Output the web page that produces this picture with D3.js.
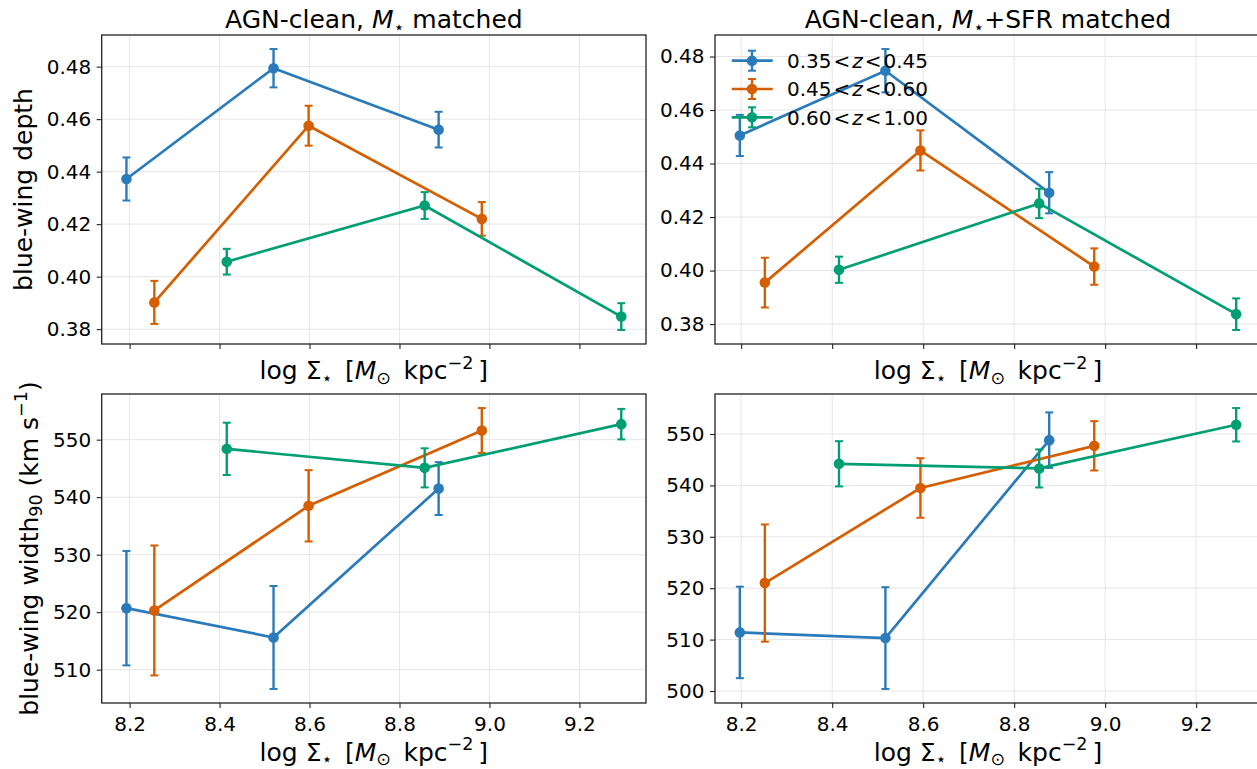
<!DOCTYPE html>
<html>
<head>
<meta charset="utf-8">
<script src="https://cdn.jsdelivr.net/npm/d3@7"></script>
<style>
  body { margin: 0; background: #fff; }
  text { font-family: "DejaVu Sans", sans-serif; fill: #000; }
</style>
</head>
<body>
<div id="chart"></div>
<script>
// redshift bins and colours
var binLo = ["0.35", "0.45", "0.60"];
var binHi = ["0.45", "0.60", "1.00"];
var colors = ["#2b7bba", "#d55e00", "#009e73"];

// log Sigma_* of each bin centre, M* matched sample (left column)
var xMassBlue   = [8.193, 8.520, 8.887];
var xMassOrange = [8.255, 8.598, 8.983];
var xMassGreen  = [8.416, 8.856, 9.293];
// M*+SFR matched sample (right column)
var xSfrBlue   = [8.197, 8.517, 8.877];
var xSfrOrange = [8.252, 8.594, 8.976];
var xSfrGreen  = [8.415, 8.855, 9.288];

// blue-wing depth, M* matched
var depthMassBlue   = [0.4372, 0.4794, 0.4560];
var depthMassBlueE  = [0.0082, 0.0073, 0.0068];
var depthMassOrange = [0.3902, 0.4575, 0.4220];
var depthMassOrangeE= [0.0082, 0.0076, 0.0064];
var depthMassGreen  = [0.4057, 0.4271, 0.3848];
var depthMassGreenE = [0.0049, 0.0051, 0.0051];

// blue-wing depth, M*+SFR matched
var depthSfrBlue   = [0.4505, 0.4747, 0.4291];
var depthSfrBlueE  = [0.0077, 0.0081, 0.0077];
var depthSfrOrange = [0.3955, 0.4449, 0.4015];
var depthSfrOrangeE= [0.0093, 0.0075, 0.0068];
var depthSfrGreen  = [0.4003, 0.4251, 0.3837];
var depthSfrGreenE = [0.0049, 0.0055, 0.0059];

// blue-wing width90 (km/s), M* matched
var widthMassBlue   = [520.7, 515.6, 541.5];
var widthMassBlueE  = [9.95, 8.95, 4.6];
var widthMassOrange = [520.3, 538.5, 551.6];
var widthMassOrangeE= [11.3, 6.2, 3.9];
var widthMassGreen  = [548.4, 545.1, 552.7];
var widthMassGreenE = [4.55, 3.4, 2.65];

// blue-wing width90 (km/s), M*+SFR matched
var widthSfrBlue   = [511.4, 510.3, 548.8];
var widthSfrBlueE  = [8.9, 9.9, 5.4];
var widthSfrOrange = [521.0, 539.5, 547.7];
var widthSfrOrangeE= [11.4, 5.8, 4.8];
var widthSfrGreen  = [544.2, 543.3, 551.8];
var widthSfrGreenE = [4.4, 3.7, 3.25];

// tick values
var xTicks = [8.2, 8.4, 8.6, 8.8, 9.0, 9.2];
var depthTicks = [0.38, 0.40, 0.42, 0.44, 0.46, 0.48];
var widthMassTicks = [510, 520, 530, 540, 550];
var widthSfrTicks = [500, 510, 520, 530, 540, 550];

var W = 1257, H = 769;
var cols = [[101.7, 646], [715, 1261]];
var rows = [[35, 344], [394, 703]];

var svg = d3.select("#chart").append("svg")
    .attr("width", W)
    .attr("height", H);

// text with italic / sub / superscript pieces
function rich(sel, x, y, parts, size, anchor) {
    var t = sel.append("text")
        .attr("x", x).attr("y", y)
        .attr("font-size", size)
        .attr("text-anchor", anchor || "middle");
    var shift = 0;
    parts.forEach(function(p) {
        var target = p.s === "sub" ? size * 0.18 : (p.s === "sup" ? -size * 0.42 : 0);
        var ts = t.append("tspan").text(p.t).attr("dy", target - shift);
        if (p.s) ts.attr("font-size", size * 0.7);
        if (p.i) ts.attr("font-style", "italic");
        shift = target;
    });
    return t;
}

var xLabel = [{t: "log \u03a3"}, {t: "\u22c6", s: "sub"}, {t: "\u2002["}, {t: "M", i: 1},
              {t: "\u2299", s: "sub"}, {t: "\u2002kpc"}, {t: "\u22122", s: "sup"}, {t: "\u2009]"}];

var panels = [
    {c: 0, r: 0, x: [xMassBlue, xMassOrange, xMassGreen],
     y: [depthMassBlue, depthMassOrange, depthMassGreen],
     e: [depthMassBlueE, depthMassOrangeE, depthMassGreenE],
     ticks: depthTicks, fmt: d3.format(".2f"),
     title: [{t: "AGN-clean, "}, {t: "M", i: 1}, {t: "\u22c6", s: "sub"}, {t: " matched"}]},
    {c: 1, r: 0, x: [xSfrBlue, xSfrOrange, xSfrGreen],
     y: [depthSfrBlue, depthSfrOrange, depthSfrGreen],
     e: [depthSfrBlueE, depthSfrOrangeE, depthSfrGreenE],
     ticks: depthTicks, fmt: d3.format(".2f"),
     title: [{t: "AGN-clean, "}, {t: "M", i: 1}, {t: "\u22c6", s: "sub"}, {t: "+SFR matched"}]},
    {c: 0, r: 1, x: [xMassBlue, xMassOrange, xMassGreen],
     y: [widthMassBlue, widthMassOrange, widthMassGreen],
     e: [widthMassBlueE, widthMassOrangeE, widthMassGreenE],
     ticks: widthMassTicks, fmt: d3.format("d")},
    {c: 1, r: 1, x: [xSfrBlue, xSfrOrange, xSfrGreen],
     y: [widthSfrBlue, widthSfrOrange, widthSfrGreen],
     e: [widthSfrBlueE, widthSfrOrangeE, widthSfrGreenE],
     ticks: widthSfrTicks, fmt: d3.format("d")}
];

function padded(lo, hi) {
    var p = (hi - lo) * 0.05;
    return [lo - p, hi + p];
}

panels.forEach(function(p) {
    var x0 = cols[p.c][0], x1 = cols[p.c][1];
    var y0 = rows[p.r][0], y1 = rows[p.r][1];

    var allX = d3.merge(p.x);
    var x = d3.scaleLinear().domain(padded(d3.min(allX), d3.max(allX))).range([x0, x1]);
    var lo = d3.min(p.y.map(function(s, i) { return d3.min(s, function(v, j) { return v - p.e[i][j]; }); }));
    var hi = d3.max(p.y.map(function(s, i) { return d3.max(s, function(v, j) { return v + p.e[i][j]; }); }));
    var y = d3.scaleLinear().domain(padded(lo, hi)).range([y1, y0]);

    var g = svg.append("g");

    // grid
    g.append("g").selectAll("line").data(xTicks).join("line")
        .attr("x1", function(d) { return x(d); }).attr("x2", function(d) { return x(d); })
        .attr("y1", y0).attr("y2", y1)
        .attr("stroke", "#e6e6e6").attr("stroke-width", 1);
    g.append("g").selectAll("line").data(p.ticks).join("line")
        .attr("y1", function(d) { return y(d); }).attr("y2", function(d) { return y(d); })
        .attr("x1", x0).attr("x2", x1)
        .attr("stroke", "#e6e6e6").attr("stroke-width", 1);

    // series
    p.y.forEach(function(vals, i) {
        var pts = vals.map(function(v, j) { return {x: p.x[i][j], y: v, e: p.e[i][j]}; });
        var sg = g.append("g").attr("stroke", colors[i]).attr("fill", colors[i]);
        sg.selectAll("line.bar").data(pts).join("line").attr("class", "bar")
            .attr("x1", function(d) { return x(d.x); }).attr("x2", function(d) { return x(d.x); })
            .attr("y1", function(d) { return y(d.y - d.e); }).attr("y2", function(d) { return y(d.y + d.e); })
            .attr("stroke-width", 2.4);
        [-1, 1].forEach(function(sgn) {
            sg.selectAll("line.cap" + sgn).data(pts).join("line")
                .attr("x1", function(d) { return x(d.x) - 4; }).attr("x2", function(d) { return x(d.x) + 4; })
                .attr("y1", function(d) { return y(d.y + sgn * d.e); })
                .attr("y2", function(d) { return y(d.y + sgn * d.e); })
                .attr("stroke-width", 2);
        });
        sg.append("path")
            .attr("fill", "none")
            .attr("stroke-width", 2.7)
            .attr("d", d3.line().x(function(d) { return x(d.x); }).y(function(d) { return y(d.y); })(pts));
        sg.selectAll("circle").data(pts).join("circle")
            .attr("cx", function(d) { return x(d.x); })
            .attr("cy", function(d) { return y(d.y); })
            .attr("r", 5.3).attr("stroke", "none");
    });

    // axes
    var xa = g.append("g").attr("transform", "translate(0," + y1 + ")")
        .call(d3.axisBottom(x).tickValues(xTicks).tickSize(5).tickPadding(8.4)
              .tickFormat(p.r === 1 ? d3.format(".1f") : function() { return ""; }));
    var ya = g.append("g").attr("transform", "translate(" + x0 + ",0)")
        .call(d3.axisLeft(y).tickValues(p.ticks).tickSize(5).tickPadding(5.5).tickFormat(p.fmt));
    [xa, ya].forEach(function(a) {
        a.select(".domain").remove();
        a.selectAll(".tick line").attr("stroke", "#222").attr("stroke-width", 1.1);
        a.selectAll(".tick text").attr("font-size", 20)
            .attr("font-family", "DejaVu Sans, sans-serif").attr("fill", "#000");
    });

    g.append("rect")
        .attr("x", x0).attr("y", y0).attr("width", x1 - x0).attr("height", y1 - y0)
        .attr("fill", "none").attr("stroke", "#222").attr("stroke-width", 1.3);

    var cx = (x0 + x1) / 2;
    rich(g, cx, p.r === 0 ? 379 : 760.5, xLabel, 25);
    if (p.title) rich(g, cx, 28.3, p.title, 25);
});

// y labels
var yl1 = svg.append("g").attr("transform", "translate(31.5," + (rows[0][0] + rows[0][1]) / 2 + ") rotate(-90)");
rich(yl1, 0, 0, [{t: "blue-wing depth"}], 25);
var yl2 = svg.append("g").attr("transform", "translate(37.5," + (rows[1][0] + rows[1][1]) / 2 + ") rotate(-90)");
rich(yl2, 0, 0, [{t: "blue-wing width"}, {t: "90", s: "sub"}, {t: " (km s"}, {t: "\u22121", s: "sup"}, {t: ")"}], 25);

// legend in the upper-right panel
var leg = svg.append("g");
binLo.forEach(function(b, i) {
    var cy = 60.7 + i * 28.3;
    var lg = leg.append("g").attr("stroke", colors[i]).attr("fill", colors[i]);
    lg.append("line").attr("x1", 731.7).attr("x2", 772.7).attr("y1", cy).attr("y2", cy).attr("stroke-width", 2.7);
    lg.append("line").attr("x1", 752).attr("x2", 752).attr("y1", cy - 10).attr("y2", cy + 10).attr("stroke-width", 2.4);
    lg.append("line").attr("x1", 748).attr("x2", 756).attr("y1", cy - 10).attr("y2", cy - 10).attr("stroke-width", 2);
    lg.append("line").attr("x1", 748).attr("x2", 756).attr("y1", cy + 10).attr("y2", cy + 10).attr("stroke-width", 2);
    lg.append("circle").attr("cx", 752).attr("cy", cy).attr("r", 5.3).attr("stroke", "none");
    rich(leg, 787, cy + 7.2, [{t: b + "\u200a<\u200a"}, {t: "z", i: 1}, {t: "\u200a<\u200a" + binHi[i]}], 20, "start");
});
</script>
</body>
</html>
